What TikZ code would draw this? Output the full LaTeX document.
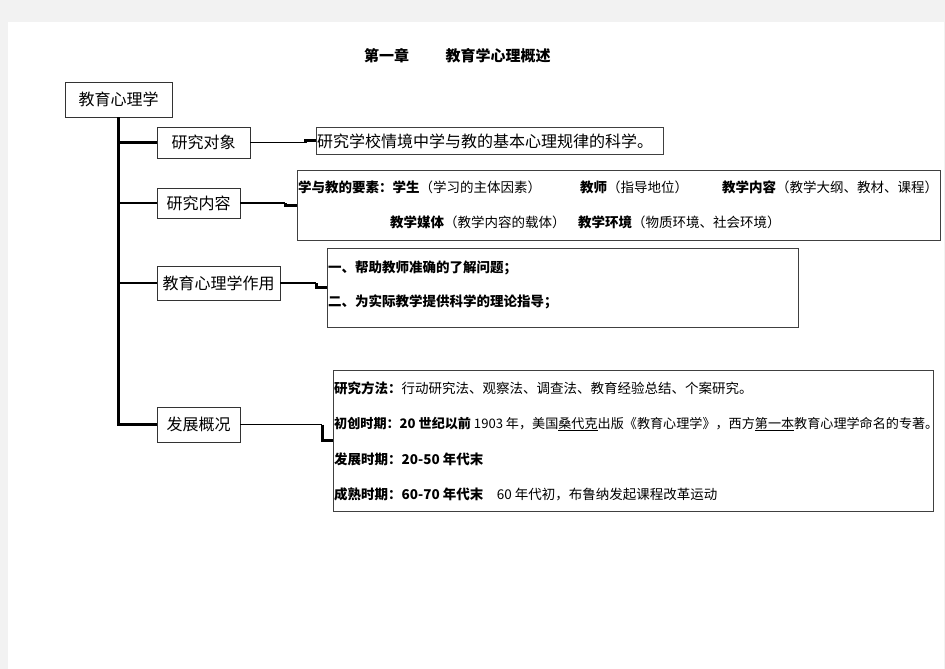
\documentclass[tikz,border=0pt]{standalone}
\usepackage{fontspec}
\setmainfont{Noto Sans CJK SC}
\begin{document}
\begin{tikzpicture}[x=1pt,y=-1pt,
 box/.style={draw=black!80,line width=.8pt,inner sep=0pt,font=\fontsize{16}{16}\selectfont},
 txtbox/.style={draw=black!75,line width=.8pt,inner sep=0pt},
 txt/.style={anchor=west,inner sep=0pt,font=\fontsize{13.5}{13.5}\selectfont},
 link/.style={line width=1.8pt},
 kink/.style={line width=3pt}]
\fill[black!5] (0,0) rectangle (945,669);
\fill[white] (8,22) rectangle (944,669);
\useasboundingbox (0,0) rectangle (945,669);
\node[font=\bfseries\fontsize{15}{15}\selectfont] (chap) at(386.5,56){第一章};
\node[font=\bfseries\fontsize{15}{15}\selectfont] (title) at(498,56){教育学心理概述};
\foreach \n/\t/\x/\y/\w/\h in {root/教育心理学/118.5/99.5/107/35,
 obj/研究对象/203.5/142.5/93/31,
 cont/研究内容/198.5/203/83/30,
 role/教育心理学作用/218.5/283/123/34,
 dev/发展概况/198.5/424.5/83/35}
 \node[box,minimum width=\w,minimum height=\h] (\n) at(\x,\y){\t};
\foreach \n/\x/\y/\w/\h in {objb/489.5/140.5/347/27,
 contb/618.5/205/643/70,
 roleb/562.5/287.5/471/79,
 devb/633/440.5/600/141}
 \node[txtbox,minimum width=\w,minimum height=\h] (\n) at(\x,\y){};
\draw[line width=2.6pt] (root.south) |- (dev.west);
\foreach \n in {obj,cont,role}
 \draw[line width=2.2pt] (root.south |- \n.west) -- (\n.west);
\foreach \a/\b/\d in {obj/objb/55,cont/contb/45,role/roleb/36,dev/devb/82}{
 \draw[link] (\a.east) -- ++(\d,0) coordinate (\a k);
 \draw[kink] (\a k) |- (\b.west);}
\node[txt,font=\fontsize{16}{16}\selectfont] (def) at(317,141){研究学校情境中学与教的基本心理规律的科学。};
\foreach \n/\x/\y/\a/\b in {c1/298/187/学与教的要素：学生/学习的主体因素,
 c2/580/187/教师/指导地位,
 c3/722/187/教学内容/教学大纲、教材、课程,
 c4/390/222/教学媒体/教学内容的载体,
 c5/578/222/教学环境/物质环境、社会环境}
 \node[txt] (\n) at(\x,\y){\textbf{\a}（\b）};
\node[txt,font=\bfseries\fontsize{13.5}{13.5}\selectfont] (r1) at(328,268){一、帮助教师准确的了解问题；};
\node[txt,font=\bfseries\fontsize{13.5}{13.5}\selectfont] (r2) at(328,302){二、为实际教学提供科学的理论指导；};
\node[txt] (d1) at(334,388){\textbf{研究方法：}行动研究法、观察法、调查法、教育经验总结、个案研究。};
\node[txt,font=\fontsize{13.1}{13.1}\selectfont] (d2) at(334,424){\textbf{初创时期：20 世纪以前} 1903 年，美国\underline{桑代克}出版《教育心理学》，西方\underline{第一本}教育心理学命名的专著。};
\node[txt] (d3) at(334,459){\textbf{发展时期：20-50 年代末}};
\node[txt] (d4) at(334,494){\textbf{成熟时期：60-70 年代末}\quad 60 年代初，布鲁纳发起课程改革运动};
\end{tikzpicture}
\end{document}
